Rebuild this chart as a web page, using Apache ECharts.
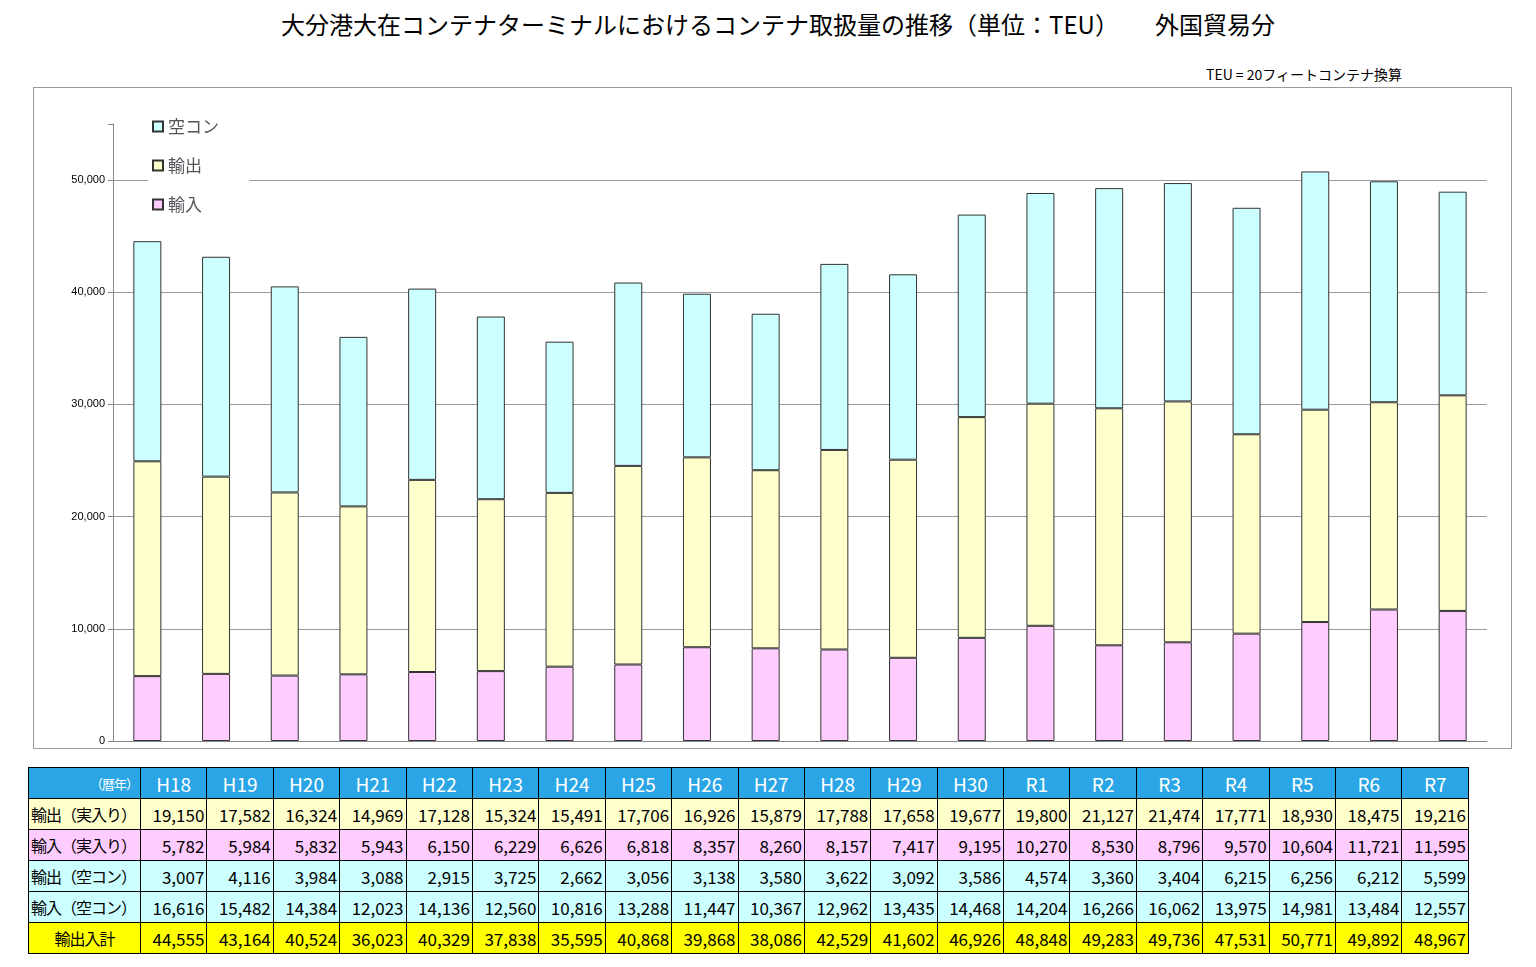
<!DOCTYPE html>
<html><head><meta charset="utf-8">
<script src="https://cdn.jsdelivr.net/npm/echarts@6/dist/echarts.min.js"></script>
<style>
body{margin:0;width:1536px;height:967px;background:#fff;font-family:"Noto Sans CJK JP",sans-serif;position:relative;overflow:hidden}
#title{position:absolute;left:0;top:6px;width:1556px;text-align:center;font-size:24px;color:#000}
#note{position:absolute;left:1206px;top:64px;font-size:14px}
#box{position:absolute;left:33px;top:87px;width:1477px;height:660px;border:1px solid #999}
#chart{width:100%;height:100%}
table{position:absolute;left:28px;top:767px;border-collapse:collapse;font-size:17px;table-layout:fixed;width:1441px}
td{border:1px solid #000;height:30px;padding:0 2px;text-align:right;white-space:nowrap;overflow:hidden}
col.h{width:112px}
tr.hd td{background:#2aa6e6;color:#fff;text-align:center;font-size:19px}
tr.hd td.h{font-size:13px;text-align:right}
tr.r0 td{background:#ffffcc}
tr.r1 td{background:#ffccff}
tr.r2 td,tr.r3 td{background:#ccffff}
tr.r4 td{background:#ffff00}
tr td.h{text-align:left;font-size:16px;letter-spacing:-1px}
tr.r4 td.h{text-align:center}
</style></head><body>
<div id="title">大分港大在コンテナターミナルにおけるコンテナ取扱量の推移（単位：TEU）　　外国貿易分</div>
<div id="note">TEU = 20フィートコンテナ換算</div>
<div id="box"><div id="chart"></div></div>
<table id="tbl"></table>
<script>
var years = ['H18','H19','H20','H21','H22','H23','H24','H25','H26','H27','H28','H29','H30','R1','R2','R3','R4','R5','R6','R7'];
var exportFull = [19150,17582,16324,14969,17128,15324,15491,17706,16926,15879,17788,17658,19677,19800,21127,21474,17771,18930,18475,19216];
var importFull = [5782,5984,5832,5943,6150,6229,6626,6818,8357,8260,8157,7417,9195,10270,8530,8796,9570,10604,11721,11595];
var exportEmpty = [3007,4116,3984,3088,2915,3725,2662,3056,3138,3580,3622,3092,3586,4574,3360,3404,6215,6256,6212,5599];
var importEmpty = [16616,15482,14384,12023,14136,12560,10816,13288,11447,10367,12962,13435,14468,14204,16266,16062,13975,14981,13484,12557];
var totals = [44555,43164,40524,36023,40329,37838,35595,40868,39868,38086,42529,41602,46926,48848,49283,49736,47531,50771,49892,48967];

var empty = exportEmpty.map(function(v,i){return v + importEmpty[i];});

var chart = echarts.init(document.getElementById('chart'));
var bar = function(name, data, color){
    return {name:name, type:'bar', stack:'a', data:data, barWidth:28,
        itemStyle:{color:color, borderColor:'#333', borderWidth:1}};
};
chart.setOption({
    animation:false,
    grid:{left:79, right:24, top:36, bottom:7},
    legend:{orient:'vertical', left:114, top:28, itemGap:22, itemWidth:10, itemHeight:10, icon:'rect',
        backgroundColor:'#fff', padding:[2,30,2,4],
        textStyle:{fontSize:17, fontFamily:'Noto Sans CJK JP'},
        data:['空コン','輸出','輸入']},
    xAxis:{type:'category', data:years, axisLabel:{show:false}, axisTick:{show:false},
        axisLine:{lineStyle:{color:'#888'}}},
    yAxis:{type:'value', min:0, max:55000, interval:10000,
        axisLine:{show:true, lineStyle:{color:'#888'}},
        axisTick:{show:true},
        splitLine:{showMaxLine:false, lineStyle:{color:'#999'}},
        axisLabel:{fontSize:11, color:'#000', formatter:function(v){return v>50000?'':v.toLocaleString('en-US');}}},
    series:[
        bar('輸入', importFull, '#ffccff'),
        bar('輸出', exportFull, '#ffffcc'),
        bar('空コン', empty, '#ccffff')
    ]
});

var rows = [['輸出（実入り）',exportFull],['輸入（実入り）',importFull],['輸出（空コン）',exportEmpty],['輸入（空コン）',importEmpty],['輸出入計',totals]];
var html = '<colgroup><col class="h">' + years.map(function(){return '<col>';}).join('') + '</colgroup>';
html += '<tr class="hd"><td class="h">（暦年）</td>' + years.map(function(y){return '<td>'+y+'</td>';}).join('') + '</tr>';
rows.forEach(function(r,k){
    html += '<tr class="r'+k+'"><td class="h">'+r[0]+'</td>' + r[1].map(function(v){return '<td>'+v.toLocaleString('en-US')+'</td>';}).join('') + '</tr>';
});
document.getElementById('tbl').innerHTML = html;
</script>
</body></html>
